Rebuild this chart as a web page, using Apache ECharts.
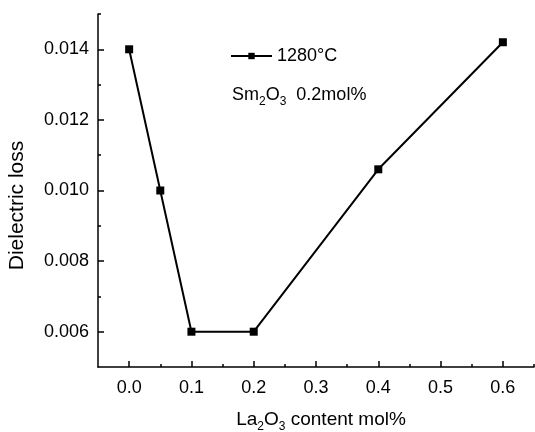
<!DOCTYPE html>
<html style="height: 100%">
<head>
	<meta charset="utf-8">
	<script type="text/javascript" src="https://cdn.jsdelivr.net/npm/echarts@6/dist/echarts.min.js"></script>
</head>
<body style="height: 100%; margin: 0; background: #fff">
	<div id="container" style="width: 535px; height: 432px"></div>
	<script>
	// La2O3 content (mol%) and dielectric loss, Sm2O3 0.2mol%, 1280°C
	var xContent = [0.0, 0.05, 0.1, 0.2, 0.4, 0.6];
	var lossValues = [0.0140, 0.0100, 0.0060, 0.0060, 0.0106, 0.0142];
	var seriesName = '1280°C';

	// tick positions
	var xMajor = [0.0, 0.1, 0.2, 0.3, 0.4, 0.5, 0.6];
	var xMinor = [0.05, 0.15, 0.25, 0.35, 0.45, 0.55, 0.65];
	var yMajor = [0.006, 0.008, 0.010, 0.012, 0.014];
	var yMinor = [0.007, 0.009, 0.011, 0.013, 0.015];

	var points = xContent.map(function (x, i) { return [x, lossValues[i]]; });
	var font = 'Liberation Sans, Arial, sans-serif';
	var black = '#000';

	var myChart = echarts.init(document.getElementById('container'));

	function minorAxis(pos, values, extent) {
		return {
			type: 'value',
			position: pos,
			min: extent[0], max: extent[1],
			axisLine: { show: false, onZero: false },
			axisTick: { inside: true, length: 3, customValues: values, lineStyle: { color: black, width: 1.5 } },
			axisLabel: { show: false },
			splitLine: { show: false }
		};
	}

	var option = {
		animation: false,
		backgroundColor: '#fff',
		grid: { left: 98, right: 1, top: 14, bottom: 65, outerBoundsMode: 'none', containLabel: false },
		legend: {
			data: [seriesName],
			left: 225, top: 42,
			itemWidth: 41, itemHeight: 8,
			textStyle: { fontFamily: font, fontSize: 18, color: black }
		},
		graphic: [{
			type: 'text',
			left: 232, top: 86,
			style: {
				text: '{a|Sm}{s|2}{a|O}{s|3}{a|  0.2mol%}',
				rich: {
					a: { fontFamily: font, fontSize: 18, fill: black, height: 21, verticalAlign: 'bottom' },
					s: { fontFamily: font, fontSize: 12, fill: black, height: 15, verticalAlign: 'bottom', padding: [0, 0, -4, 0] }
				}
			}
		}],
		xAxis: [{
			type: 'value',
			position: 'bottom',
			min: -0.05, max: 0.65,
			name: '{a|La}{s|2}{a|O}{s|3}{a| content mol%}',
			nameLocation: 'middle',
			nameGap: 42,
			nameTextStyle: {
				padding: [0, 0, 0, 10],
				rich: {
					a: { fontFamily: font, fontSize: 19, color: black, verticalAlign: 'bottom', height: 21 },
					s: { fontFamily: font, fontSize: 12, color: black, verticalAlign: 'bottom', height: 15, padding: [0, 0, -4, 0] }
				}
			},
			axisLine: { onZero: false, lineStyle: { color: black, width: 1.5 } },
			axisTick: { inside: true, length: 6, customValues: xMajor, lineStyle: { color: black, width: 1.5 } },
			axisLabel: {
				fontFamily: font, fontSize: 18, color: black, margin: 12,
				customValues: xMajor,
				formatter: function (v) { return v.toFixed(1); }
			},
			splitLine: { show: false }
		}, minorAxis('bottom', xMinor, [-0.05, 0.65])],
		yAxis: [{
			type: 'value',
			position: 'left',
			min: 0.005, max: 0.015,
			name: 'Dielectric loss',
			nameLocation: 'middle',
			nameGap: 70,
			nameTextStyle: { fontFamily: font, fontSize: 21, color: black, padding: [0, 30, 0, 0] },
			axisLine: { onZero: false, lineStyle: { color: black, width: 1.5 } },
			axisTick: { inside: true, length: 6, customValues: yMajor, lineStyle: { color: black, width: 1.5 } },
			axisLabel: {
				fontFamily: font, fontSize: 18, color: black, margin: 9,
				customValues: yMajor,
				formatter: function (v) { return v.toFixed(3); }
			},
			splitLine: { show: false }
		}, minorAxis('left', yMinor, [0.005, 0.015])],
		series: [{
			name: seriesName,
			type: 'line',
			xAxisIndex: 0,
			yAxisIndex: 0,
			data: points,
			symbol: 'rect',
			symbolSize: 8,
			itemStyle: { color: black },
			lineStyle: { color: black, width: 2 }
		}]
	};
	myChart.setOption(option);
	</script>
</body>
</html>
